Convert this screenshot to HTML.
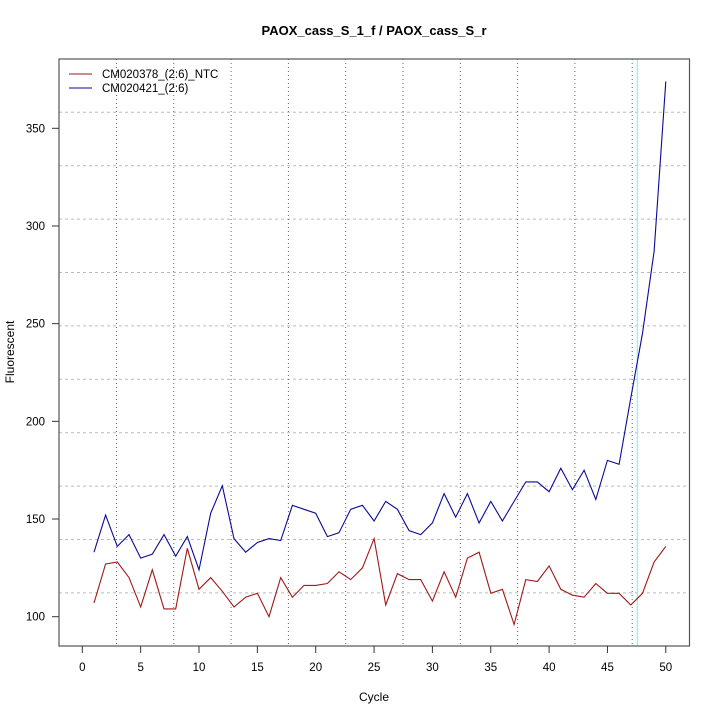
<!DOCTYPE html>
<html><head><meta charset="utf-8"><style>
html,body{margin:0;padding:0;background:#fff;}
svg{display:block;font-family:"Liberation Sans",sans-serif;}
</style></head><body>
<svg id="s" width="720" height="720" xmlns="http://www.w3.org/2000/svg">
<text x="374" y="35" text-anchor="middle" font-size="13" font-weight="bold">PAOX_cass_S_1_f / PAOX_cass_S_r</text>
<g id="grid"></g>
<line x1="637.3" y1="59" x2="637.3" y2="646" stroke="#5ff" stroke-width="1"/>
<polyline id="red" fill="none" stroke="#a01818" stroke-width="1.1"/>
<polyline id="blue" fill="none" stroke="#0a0a9a" stroke-width="1.1"/>
<rect x="59" y="59" width="630.5" height="587" fill="none" stroke="#555" stroke-width="1.2"/>
<g id="ax" font-size="11.5"></g>
<line x1="69" y1="74" x2="92" y2="74" stroke="#a01818"/>
<line x1="69" y1="88" x2="92" y2="88" stroke="#0a0a9a"/>
<text x="102" y="78" font-size="11.5">CM020378_(2:6)_NTC</text>
<text x="102" y="92" font-size="11.5">CM020421_(2:6)</text>
<text x="374" y="701" text-anchor="middle" font-size="12">Cycle</text>
<text x="14" y="352" text-anchor="middle" font-size="12" transform="rotate(-90 14 352)">Fluorescent</text>
</svg>
<script>
const X=c=>82.3+c*11.67, Y=v=>616.7-(v-100)*1.9536;
const blue=[133,152,136,142,130,132,142,131,141,124,153,167,140,133,138,140,139,157,155,153,141,143,155,157,149,159,155,144,142,148,163,151,163,148,159,149,159,169,169,164,176,165,175,160,180,178,212,245,287,374];
const red=[107,127,128,120,105,124,104,104,135,114,120,113,105,110,112,100,120,110,116,116,117,123,119,125,140,106,122,119,119,108,123,110,130,133,112,114,96,119,118,126,114,111,110,117,112,112,106,112,128,136];
const pts=a=>a.map((v,i)=>X(i+1).toFixed(1)+","+Y(v).toFixed(1)).join(" ");
document.getElementById("red").setAttribute("points",pts(red));
document.getElementById("blue").setAttribute("points",pts(blue));
let g="";
for(let k=0;k<10;k++){const y=112.3+k*53.4;g+=`<line x1="59" y1="${y}" x2="689" y2="${y}" stroke="#bbb" stroke-dasharray="3,3"/>`;}
for(let k=0;k<10;k++){const x=116.5+k*57.3;g+=`<line x1="${x}" y1="59" x2="${x}" y2="646" stroke="#666" stroke-dasharray="1,3"/>`;}
document.getElementById("grid").innerHTML=g;
let a="";
for(let c=0;c<=50;c+=5){const x=X(c);a+=`<line x1="${x}" y1="646" x2="${x}" y2="653" stroke="#333"/><text x="${x}" y="671" text-anchor="middle">${c}</text>`;}
for(let v=100;v<=350;v+=50){const y=Y(v);a+=`<line x1="52" y1="${y}" x2="59" y2="${y}" stroke="#333"/><text x="45" y="${y+4}" text-anchor="end">${v}</text>`;}
document.getElementById("ax").innerHTML=a;
</script>
</body></html>
